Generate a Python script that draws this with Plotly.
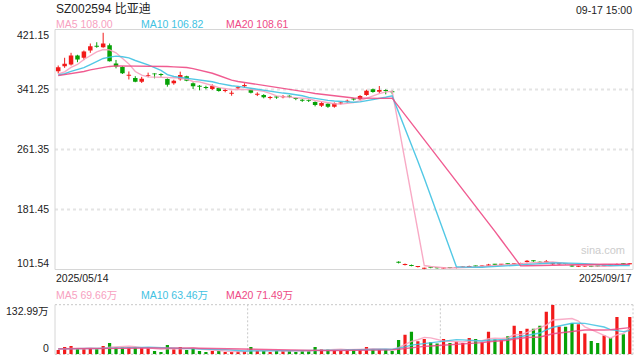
import plotly.graph_objects as go

# ---------------- data ----------------
title_text = "SZ002594 比亚迪"
time_text = "09-17 15:00"
first_date = "2025/05/14"
last_date = "2025/09/17"
price_ticks = [421.15, 341.25, 261.35, 181.45, 101.54]
volume_max = 132.99

opens = [365.6, 372.3, 374.5, 386.5, 383.5, 393.2, 399.0, 397.6, 400.3, 376.0,
         371.2, 359.5, 356.6, 351.7, 359.4, 362.3, 361.4, 355.2, 349.5, 354.8,
         358.8, 349.5, 345.9, 344.2, 341.9, 343.3, 339.3, 335.6, 342.8, 345.5,
         341.5, 334.2, 334.0, 329.8, 331.2, 331.0, 332.0, 329.5, 327.0, 326.8,
         324.6, 319.7, 322.2, 318.4, 322.6, 325.0, 328.5, 328.2, 334.0, 341.5,
         338.4, 340.6, 338.4, 111.5, 107.6, 107.6, 104.8, 102.6, 104.3, 103.9,
         103.0, 104.0, 103.4, 104.2, 105.0, 106.2, 105.6, 106.4, 108.4, 107.8,
         108.9, 108.4, 109.0, 111.4, 113.2, 111.8, 111.0, 108.4, 108.4, 109.5,
         106.8, 105.2, 105.4, 106.0, 106.0, 105.8, 107.5, 107.2, 109.2, 108.6]
highs = [373.2, 383.5, 390.1, 387.5, 393.2, 402.5, 404.2, 416.8, 402.5, 380.6,
         372.2, 365.3, 359.0, 358.1, 363.7, 362.8, 362.8, 356.1, 354.3, 365.0,
         359.6, 350.8, 347.2, 346.3, 348.1, 344.2, 342.8, 339.7, 346.0, 349.5,
         342.5, 337.5, 335.0, 332.5, 332.6, 333.8, 333.5, 331.0, 328.5, 328.0,
         325.5, 324.8, 323.0, 324.0, 325.0, 327.8, 330.0, 333.8, 341.0, 342.5,
         345.9, 341.5, 339.8, 112.5, 109.5, 108.2, 106.0, 104.0, 104.9, 104.4,
         104.2, 104.5, 104.5, 105.5, 106.6, 106.8, 107.0, 109.0, 109.0, 108.9,
         109.6, 110.0, 110.6, 114.2, 113.8, 112.4, 114.2, 110.6, 109.8, 110.0,
         107.4, 106.6, 106.8, 106.4, 106.4, 107.0, 108.0, 109.5, 109.6, 110.2]
lows = [362.6, 370.1, 373.2, 377.6, 380.3, 390.1, 396.8, 396.8, 378.5, 369.4,
        361.9, 354.6, 350.9, 349.9, 357.5, 356.1, 358.3, 345.0, 347.6, 353.0,
        352.2, 341.9, 340.2, 341.5, 340.6, 338.4, 337.5, 333.0, 341.0, 343.5,
        336.0, 332.5, 329.5, 328.0, 328.8, 329.5, 329.8, 327.0, 324.8, 324.6,
        318.8, 318.0, 316.8, 317.0, 321.2, 323.6, 326.5, 327.2, 332.8, 337.0,
        336.2, 334.8, 334.8, 109.6, 106.9, 105.8, 104.2, 101.6, 103.2, 102.8,
        102.6, 103.0, 103.0, 103.8, 104.6, 105.2, 105.2, 106.0, 107.2, 107.2,
        107.8, 107.8, 108.6, 110.8, 111.8, 109.6, 110.6, 107.6, 107.8, 108.4,
        105.0, 104.8, 105.0, 104.8, 105.2, 105.4, 106.4, 106.9, 108.0, 108.3]
closes = [370.9, 375.5, 386.5, 381.2, 391.9, 398.9, 398.1, 402.5, 379.0, 372.0,
          362.8, 360.3, 351.7, 355.6, 360.2, 361.4, 360.6, 347.6, 353.0, 360.6,
          353.0, 345.5, 345.0, 343.3, 345.9, 339.3, 340.6, 337.0, 344.2, 347.2,
          337.0, 335.0, 330.8, 330.6, 330.6, 331.9, 331.5, 328.6, 326.3, 326.1,
          320.6, 323.4, 318.4, 322.9, 323.5, 325.9, 327.8, 332.6, 339.7, 337.9,
          340.6, 339.3, 337.5, 110.6, 108.4, 106.2, 105.5, 103.4, 103.9, 103.3,
          103.6, 103.5, 104.1, 105.0, 106.1, 105.6, 106.5, 108.2, 107.8, 108.4,
          108.4, 109.4, 110.2, 113.2, 112.4, 110.3, 112.6, 109.5, 109.0, 109.0,
          105.5, 105.8, 106.0, 105.3, 105.6, 106.5, 107.0, 108.8, 108.4, 109.3]
# volume in 万 (10k lots)
volumes = [11.7, 19.8, 22.5, 13.5, 13.5, 16.2, 13.5, 22.5, 30.6, 18.0,
           18.0, 18.0, 18.0, 18.0, 16.2, 9.0, 6.3, 25.2, 13.5, 19.8,
           11.7, 16.2, 9.0, 6.3, 9.0, 9.0, 6.3, 6.3, 7.2, 9.0,
           19.8, 9.0, 9.0, 6.3, 9.0, 9.0, 9.0, 6.3, 9.0, 9.0,
           19.8, 13.5, 13.5, 11.7, 9.0, 13.5, 13.5, 13.5, 19.8, 13.5,
           13.5, 13.5, 9.0, 38.6, 52.1, 60.2, 35.0, 41.3, 32.4, 28.8,
           41.3, 30.6, 34.1, 30.6, 44.0, 41.3, 32.4, 60.2, 39.5, 38.6,
           48.2, 76.4, 62.2, 68.3, 68.3, 76.4, 114.1, 132.99, 74.6, 73.7,
           84.0, 80.5, 55.5, 35.9, 30.4, 50.3, 44.0, 100.2, 53.5, 100.3]
# estimated sessions before the first visible day (needed for the moving averages)
prior_closes = [352, 356, 361, 358, 355, 362, 365, 360, 357, 363,
                359, 354, 361, 364, 358, 362, 357, 361, 359]
prior_volumes = [14, 16, 13, 15, 17, 14, 12, 15, 16, 13,
                 15, 14, 16, 13, 15, 14, 17, 15, 14]

ma_periods = [5, 10, 20]
ma_colors = ["#f7a1bf", "#3fc2e2", "#ee4a85"]

# ---------------- helpers ----------------
W, H = 640, 360
PX0, PX1 = 55, 633
PY0, PY1 = 29.5, 269.5      # price pane (top, bottom) in px
VY0, VY1 = 304.7, 354.3     # volume pane


def px_x(x):
    return x / W


def px_y(y):
    return 1 - y / H


def moving_avg(series, prior, n):
    full = list(prior) + list(series)
    start = len(prior)
    return [sum(full[k - n + 1:k + 1]) / n for k in range(start, len(full))]


RED = "#f21a1a"
GREEN = "#07a207"
n = len(closes)
idx = list(range(n))
up = [c >= o for o, c in zip(opens, closes)]
colors = [RED if u else GREEN for u in up]

fig = go.Figure()

# wicks
for want, col in ((True, RED), (False, GREEN)):
    wx, wy = [], []
    for i in idx:
        if up[i] == want:
            wx += [i, i, None]
            wy += [lows[i], highs[i], None]
    fig.add_trace(go.Scatter(x=wx, y=wy, mode="lines", line=dict(color=col, width=1),
                             hoverinfo="skip", xaxis="x", yaxis="y"))

# bodies
body_base = [min(o, c) for o, c in zip(opens, closes)]
body_h = [max(abs(c - o), 1.3) for o, c in zip(opens, closes)]
fig.add_trace(go.Bar(x=idx, y=body_h, base=body_base, width=0.7,
                     marker=dict(color=colors, line=dict(width=0)),
                     xaxis="x", yaxis="y", hoverinfo="skip"))

# price moving averages
price_ma = {}
for p, col in zip(ma_periods, ma_colors):
    vals = moving_avg(closes, prior_closes, p)
    price_ma[p] = vals
    fig.add_trace(go.Scatter(x=idx, y=vals, mode="lines", line=dict(color=col, width=1.4),
                             opacity=0.9, xaxis="x", yaxis="y", hoverinfo="skip"))

# volume bars
fig.add_trace(go.Bar(x=idx, y=volumes, width=0.5,
                     marker=dict(color=colors, line=dict(width=0)),
                     xaxis="x2", yaxis="y2", hoverinfo="skip"))

vol_ma = {}
for p, col in zip(ma_periods, ma_colors):
    vals = moving_avg(volumes, prior_volumes, p)
    vol_ma[p] = vals
    fig.add_trace(go.Scatter(x=idx, y=vals, mode="lines", line=dict(color=col, width=1.4),
                             opacity=0.85, xaxis="x2", yaxis="y2", hoverinfo="skip"))

# ---------------- shapes ----------------
shapes = []
grid_col = "#e4e4e4"
for v in price_ticks[1:-1]:
    shapes.append(dict(type="line", xref="x domain", x0=0, x1=1, yref="y", y0=v, y1=v,
                       line=dict(color=grid_col, width=2, dash="3px,3px"), layer="below"))
# price pane frame
shapes.append(dict(type="rect", xref="paper", yref="paper",
                   x0=px_x(PX0), x1=px_x(PX1), y0=px_y(PY1), y1=px_y(PY0),
                   line=dict(color="#d6d6d6", width=1), layer="below"))
# volume pane frame (dotted) + solid left edge
vdot = dict(color="#c8c8c8", width=1, dash="2px,2px")
shapes.append(dict(type="line", xref="paper", yref="paper", x0=px_x(PX0), x1=px_x(PX1),
                   y0=px_y(VY0), y1=px_y(VY0), line=vdot, layer="below"))
shapes.append(dict(type="line", xref="paper", yref="paper", x0=px_x(PX0), x1=px_x(PX1),
                   y0=px_y(VY1), y1=px_y(VY1), line=vdot, layer="below"))
shapes.append(dict(type="line", xref="paper", yref="paper", x0=px_x(PX1), x1=px_x(PX1),
                   y0=px_y(VY1), y1=px_y(VY0), line=vdot, layer="below"))
shapes.append(dict(type="line", xref="paper", yref="paper", x0=px_x(PX0), x1=px_x(PX0),
                   y0=px_y(VY1), y1=px_y(VY0), line=dict(color="#d6d6d6", width=1), layer="below"))
for frac in (1 / 3, 2 / 3):
    xx = PX0 + (PX1 - PX0) * frac
    shapes.append(dict(type="line", xref="paper", yref="paper", x0=px_x(xx), x1=px_x(xx),
                       y0=px_y(VY1), y1=px_y(VY0), line=vdot, layer="below"))

# ---------------- annotations ----------------
FONT = "Liberation Sans, Arial, Noto Sans CJK SC, sans-serif"
ann = []


def text(t, x, y, size=10.5, color="#333333", anchor="left"):
    ann.append(dict(text=t, x=px_x(x), y=px_y(y), xref="paper", yref="paper",
                    xanchor=anchor, yanchor="middle", showarrow=False,
                    font=dict(family=FONT, size=size, color=color)))


text(title_text, 54, 9, size=12, color="#222222")
text(time_text, 634, 10, size=10.5, color="#222222", anchor="right")
ma_x = [54, 139, 224]
for p, col, xx in zip(ma_periods, ma_colors, ma_x):
    text(f"MA{p} {price_ma[p][-1]:.2f}", xx, 24, color=col)
    text(f"MA{p} {vol_ma[p][-1]:.2f}万", xx, 294.5, color=col)

# price axis labels
label_y = {0: PY0 + 5.5, len(price_ticks) - 1: PY1 - 6.5}
for k, v in enumerate(price_ticks):
    yy = label_y.get(k, PY1 - (v - price_ticks[-1]) / (price_ticks[0] - price_ticks[-1]) * (PY1 - PY0))
    text(f"{v:.2f}", 51, yy, color="#222222", anchor="right")

text(f"{volume_max:.2f}万", 51, VY0 + 6.3, color="#222222", anchor="right")
text("0", 51, VY1 - 6, color="#222222", anchor="right")

text(first_date, 54, 278, color="#222222")
text(last_date, 634, 278, color="#222222", anchor="right")
text("sina.com", 603, 249.5, size=11, color="#cccccc", anchor="center")

# ---------------- layout ----------------
fig.update_layout(
    width=W, height=H, margin=dict(l=0, r=0, t=0, b=0),
    paper_bgcolor="white", plot_bgcolor="white",
    showlegend=False, barmode="overlay", hovermode=False,
    shapes=shapes, annotations=ann,
    xaxis=dict(domain=[px_x(PX0), px_x(PX1)], range=[-0.5, n - 0.5], showticklabels=False,
               showgrid=False, zeroline=False, showline=False, ticks="", fixedrange=True),
    xaxis2=dict(domain=[px_x(PX0), px_x(PX1)], range=[-0.5, n - 0.5], matches="x",
                showticklabels=False, showgrid=False, zeroline=False, showline=False,
                ticks="", anchor="y2", fixedrange=True),
    yaxis=dict(domain=[px_y(PY1), px_y(PY0)], range=[price_ticks[-1], price_ticks[0]],
               showticklabels=False, showgrid=False, zeroline=False, showline=False,
               ticks="", fixedrange=True),
    yaxis2=dict(domain=[px_y(VY1), px_y(VY0)], range=[0, volume_max], anchor="x2",
                showticklabels=False, showgrid=False, zeroline=False, showline=False,
                ticks="", fixedrange=True),
)

fig.write_html(
    "out.html",
    config={"displayModeBar": False, "staticPlot": True},
    post_script="document.body.style.margin='0';document.body.style.overflow='hidden';",
)
